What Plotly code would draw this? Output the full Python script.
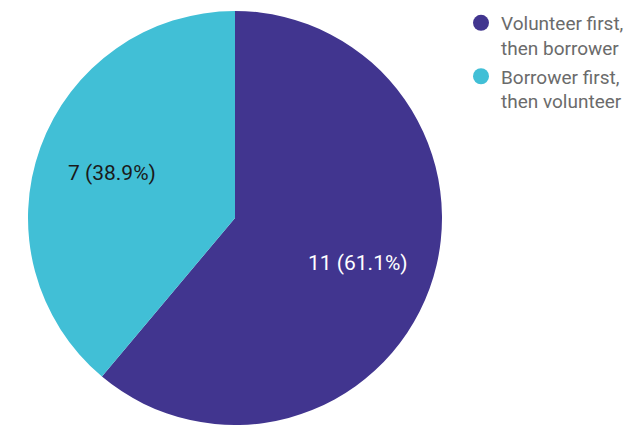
import math
import plotly.graph_objects as go

labels = ["Volunteer first,<br>then borrower", "Borrower first,<br>then volunteer"]
values = [11, 7]
colors = ["#41358f", "#41bfd6"]
text_colors = ["#ffffff", "#1a1a1a"]

W, H = 643, 425
# pie geometry (pixels)
x0, x1, y0, y1 = 27, 443, 11, 425
cx, cy = (x0 + x1) / 2, (y0 + y1) / 2
R = min(x1 - x0, y1 - y0) / 2

fig = go.Figure()
fig.add_trace(go.Pie(
    labels=labels, values=values, sort=False, direction="clockwise", rotation=0,
    marker=dict(colors=colors, line=dict(width=0)),
    textinfo="none", showlegend=False, hoverinfo="skip",
    domain=dict(x=[x0 / W, x1 / W], y=[1 - y1 / H, 1 - y0 / H]),
))
for name, c in zip(labels, colors):
    fig.add_trace(go.Scatter(x=[None], y=[None], mode="markers", name=name,
                             legendgroup=name,
                             marker=dict(symbol="circle", size=21, color=c)))

# slice labels placed along each slice's mid angle
total = sum(values)
cum = 0
for v, tc in zip(values, text_colors):
    mid = (cum + v / 2) / total * 2 * math.pi
    cum += v
    px = cx + 0.63 * R * math.sin(mid)
    py = cy - 0.63 * R * math.cos(mid)
    fig.add_annotation(x=px / W, y=1 - py / H, xref="paper", yref="paper",
                       xanchor="center", yanchor="middle",
                       text=f"{v} ({v / total * 100:.1f}%)", showarrow=False,
                       font=dict(family="Roboto", size=21, color=tc))

fig.update_layout(
    width=W, height=H, margin=dict(l=0, r=0, t=0, b=0),
    paper_bgcolor="white", plot_bgcolor="white",
    xaxis=dict(visible=False), yaxis=dict(visible=False),
    legend=dict(x=461 / W, y=1 - 4 / H, xanchor="left", yanchor="top",
                font=dict(family="Roboto", size=19, color="#6b6b6b"),
                tracegroupgap=1, valign="top", itemsizing="trace"),
)
fig.write_html("out.html")
